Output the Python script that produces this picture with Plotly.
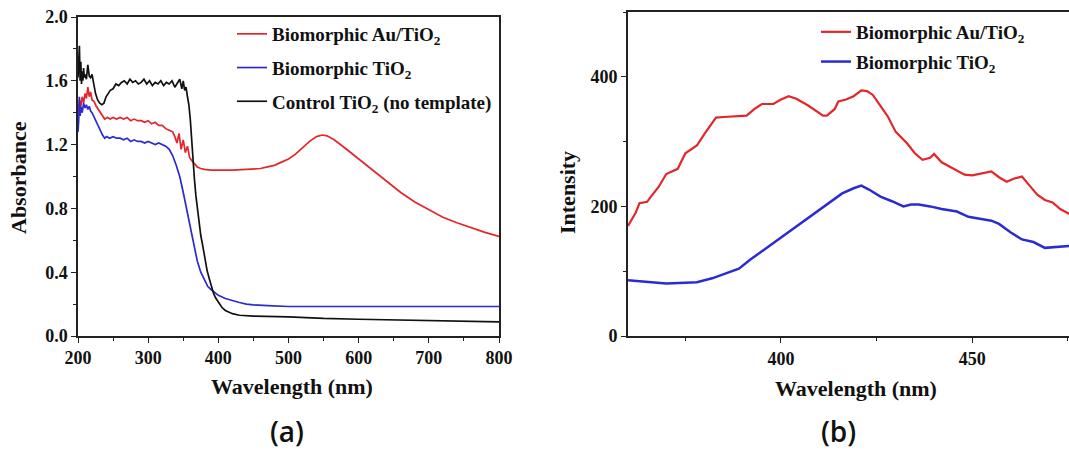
import plotly.graph_objects as go

# ---------------- Panel (a): UV-vis absorbance ----------------
wl_au = [200, 202, 204, 206, 208, 210, 212, 214, 216, 218, 220, 223, 226, 229, 232, 235, 238, 242, 246, 250,
         255, 260, 265, 270, 275, 280, 285, 290, 295, 300, 305, 310, 315, 320, 325, 330, 335, 338, 341, 344,
         347, 350, 353, 356, 359, 362, 366, 370, 375, 380, 390, 400, 420, 440, 460, 470, 480, 490, 500, 510,
         520, 530, 540, 548, 555, 565, 580, 600, 620, 640, 660, 680, 700, 720, 740, 760, 780, 800]
abs_au = [1.40, 1.48, 1.44, 1.50, 1.46, 1.52, 1.49, 1.56, 1.50, 1.53, 1.48, 1.47, 1.44, 1.42, 1.40, 1.38, 1.36, 1.37, 1.36, 1.37,
          1.36, 1.37, 1.36, 1.37, 1.35, 1.36, 1.35, 1.35, 1.34, 1.35, 1.33, 1.34, 1.32, 1.32, 1.30, 1.29, 1.28, 1.25, 1.21, 1.27,
          1.17, 1.23, 1.15, 1.19, 1.12, 1.10, 1.08, 1.06, 1.05, 1.045, 1.04, 1.04, 1.04, 1.045, 1.05, 1.06, 1.07, 1.09, 1.11, 1.14,
          1.18, 1.22, 1.25, 1.26, 1.255, 1.23, 1.18, 1.11, 1.04, 0.97, 0.90, 0.84, 0.79, 0.745, 0.71, 0.68, 0.65, 0.625]

wl_bio = [200, 201, 202, 203, 204, 206, 208, 210, 212, 214, 216, 218, 220, 223, 226, 229, 232, 235, 238, 241,
          245, 250, 255, 260, 265, 270, 275, 280, 285, 290, 295, 300, 305, 310, 315, 320, 325, 330, 335, 340,
          345, 350, 355, 360, 365, 370, 375, 380, 385, 390, 395, 400, 410, 420, 430, 440, 450, 470, 500, 550,
          600, 650, 700, 750, 800]
abs_bio = [1.28, 1.35, 1.50, 1.38, 1.44, 1.40, 1.46, 1.43, 1.45, 1.42, 1.44, 1.41, 1.40, 1.37, 1.34, 1.31, 1.28, 1.26, 1.24, 1.25,
           1.24, 1.25, 1.24, 1.24, 1.23, 1.24, 1.22, 1.23, 1.22, 1.22, 1.21, 1.22, 1.21, 1.20, 1.21, 1.20, 1.19, 1.17, 1.13, 1.07,
           1.00, 0.90, 0.79, 0.67, 0.56, 0.47, 0.40, 0.35, 0.31, 0.29, 0.27, 0.255, 0.235, 0.22, 0.21, 0.20, 0.195, 0.19, 0.185, 0.185,
           0.185, 0.185, 0.185, 0.185, 0.185]

wl_ctrl = [200, 201, 202, 203, 204, 205, 206, 207, 208, 209, 210, 212, 214, 216, 218, 220, 222, 225, 228, 231,
           234, 237, 240, 243, 246, 250, 254, 258, 262, 266, 270, 274, 278, 282, 286, 290, 294, 298, 302, 306,
           310, 314, 318, 322, 326, 330, 334, 338, 342, 345, 348, 350, 352, 354, 356, 358, 360, 362, 364, 366,
           368, 370, 372, 375, 378, 381, 384, 387, 390, 393, 396, 400, 405, 410, 415, 420, 430, 450, 500, 550,
           600, 650, 700, 750, 800]
abs_ctrl = [1.62, 1.70, 1.82, 1.60, 1.72, 1.58, 1.66, 1.60, 1.68, 1.62, 1.64, 1.61, 1.70, 1.63, 1.62, 1.64, 1.58, 1.52, 1.48, 1.46,
            1.45, 1.46, 1.50, 1.52, 1.54, 1.55, 1.58, 1.57, 1.59, 1.60, 1.58, 1.61, 1.59, 1.60, 1.58, 1.59, 1.61, 1.58, 1.60, 1.57,
            1.59, 1.58, 1.60, 1.57, 1.59, 1.58, 1.60, 1.56, 1.59, 1.61, 1.55, 1.60, 1.54, 1.56, 1.50, 1.45, 1.36, 1.22, 1.10, 0.98,
            0.88, 0.80, 0.72, 0.63, 0.56, 0.48, 0.41, 0.36, 0.31, 0.27, 0.24, 0.21, 0.18, 0.16, 0.15, 0.14, 0.13, 0.125, 0.12, 0.11,
            0.105, 0.10, 0.095, 0.09, 0.088]

# ---------------- Panel (b): PL intensity ----------------
wl_pl_au = [360, 362, 363, 365, 366, 368, 370, 371, 373, 375, 376, 378, 380, 381, 383, 385, 388, 391, 393, 395,
            398, 400, 402, 404, 407, 409, 411, 412, 414, 415, 417, 419, 421, 422.5, 424, 426, 428, 430, 433, 435,
            437, 439, 440, 442, 445, 448, 450, 453, 455, 457, 459, 461, 463, 465, 467, 469, 471, 473, 475.5]
pl_au = [170, 190, 205, 207, 215, 230, 250, 253, 258, 282, 286, 294, 312, 320, 337, 338, 339, 340, 350, 358,
         358, 365, 370, 366, 356, 348, 340, 340, 350, 362, 365, 370, 379, 378, 372, 355, 338, 315, 297, 282,
         272, 275, 281, 268, 258, 249, 248, 252, 254, 245, 238, 243, 246, 232, 218, 210, 206, 196, 188]

wl_pl_bio = [360, 365, 370, 375, 378, 382, 386, 389, 392, 396, 400, 404, 408, 412, 416, 419, 421, 423, 426, 429,
             432, 434, 436, 439, 442, 446, 449, 452, 455, 457, 460, 463, 466, 469, 471, 473, 475.5]
pl_bio = [86, 84, 81, 82, 83, 89, 97, 104, 118, 135, 152, 168, 186, 203, 220, 228, 232, 226, 215, 208,
          200, 203, 203, 200, 196, 192, 184, 181, 178, 173, 160, 149, 145, 136, 137, 138, 139]

W, H = 1069, 451
RED, BLUE, BLACK = "#e3262b", "#2b2bd1", "#111111"
SERIF = "Liberation Serif"


def px(x):
    return x / W


def py(y):
    return 1 - y / H


fig = go.Figure()
fig.add_trace(go.Scatter(x=wl_au, y=abs_au, mode="lines", name="Biomorphic Au/TiO<sub>2</sub>",
                         line=dict(color=RED, width=1.7), legendgroup="a1", legend="legend"))
fig.add_trace(go.Scatter(x=wl_bio, y=abs_bio, mode="lines", name="Biomorphic TiO<sub>2</sub>",
                         line=dict(color=BLUE, width=1.7), legendgroup="a2", legend="legend"))
fig.add_trace(go.Scatter(x=wl_ctrl, y=abs_ctrl, mode="lines", name="Control TiO<sub>2</sub> (no template)",
                         line=dict(color=BLACK, width=1.7), legendgroup="a3", legend="legend"))
fig.add_trace(go.Scatter(x=wl_pl_au, y=pl_au, mode="lines", name="Biomorphic Au/TiO<sub>2</sub>",
                         line=dict(color=RED, width=2.2), xaxis="x2", yaxis="y2", legendgroup="b1", legend="legend2"))
fig.add_trace(go.Scatter(x=wl_pl_bio, y=pl_bio, mode="lines", name="Biomorphic TiO<sub>2</sub>",
                         line=dict(color=BLUE, width=2.5), xaxis="x2", yaxis="y2", legendgroup="b2", legend="legend2"))

tickfont = dict(family=SERIF, size=18, color="#111", weight="bold")
common = dict(showgrid=False, zeroline=False, linecolor="#222", ticks="outside", ticklen=5,
              tickcolor="#222", tickfont=tickfont, automargin=False)
title_font = dict(family=SERIF, size=22, color="#111", weight="bold")
legend_font = dict(family=SERIF, size=19, color="#111", weight="bold")
panel_font = dict(family="Open Sans", size=28, color="#111", weight=600)

fig.update_layout(
    width=W, height=H, margin=dict(l=0, r=0, t=0, b=0, pad=0, autoexpand=False),
    paper_bgcolor="white", plot_bgcolor="white",
    showlegend=True,
    xaxis=dict(domain=[px(78), px(499)], range=[200, 800], dtick=100, tick0=0, mirror=True, linewidth=1.5,
               minor=dict(ticks="outside", dtick=50, ticklen=3, tickcolor="#222"), anchor="y", **common),
    yaxis=dict(domain=[py(336), py(17)], range=[0, 2.0], dtick=0.4, tick0=0, tickformat=".1f", mirror=True,
               linewidth=1.5, minor=dict(ticks="outside", dtick=0.2, ticklen=3, tickcolor="#222"),
               anchor="x", **common),
    xaxis2=dict(domain=[px(628), 1.0], range=[360, 475.3], dtick=50, tick0=0, mirror=True, linewidth=2,
                minor=dict(ticks="outside", dtick=25, ticklen=3, tickcolor="#222"), anchor="y2", **common),
    yaxis2=dict(domain=[py(336), py(12)], range=[0, 500], dtick=200, tick0=0, linewidth=2,
                minor=dict(ticks="outside", dtick=100, ticklen=3, tickcolor="#222"), anchor="x2", **common),
    legend=dict(x=px(232), y=py(15), xanchor="left", yanchor="top", bgcolor="rgba(0,0,0,0)",
                font=legend_font, tracegroupgap=6, itemwidth=30),
    legend2=dict(x=px(816), y=py(13), xanchor="left", yanchor="top", bgcolor="rgba(0,0,0,0)",
                 font=legend_font, tracegroupgap=2, itemwidth=30),
    annotations=[
        dict(text="Absorbance", x=px(18), y=py(178), xref="paper", yref="paper", textangle=-90,
             xanchor="center", yanchor="middle", showarrow=False, font=title_font),
        dict(text="Wavelength (nm)", x=px(292), y=py(386), xref="paper", yref="paper",
             xanchor="center", yanchor="middle", showarrow=False, font=title_font),
        dict(text="Intensity", x=px(567), y=py(193), xref="paper", yref="paper", textangle=-90,
             xanchor="center", yanchor="middle", showarrow=False, font=title_font),
        dict(text="Wavelength (nm)", x=px(856), y=py(388), xref="paper", yref="paper",
             xanchor="center", yanchor="middle", showarrow=False, font=title_font),
        dict(text="(a)", x=px(287), y=py(431), xref="paper", yref="paper",
             xanchor="center", yanchor="middle", showarrow=False, font=panel_font),
        dict(text="(b)", x=px(838), y=py(431), xref="paper", yref="paper",
             xanchor="center", yanchor="middle", showarrow=False, font=panel_font),
    ],
)

fig.write_html("out.html")
